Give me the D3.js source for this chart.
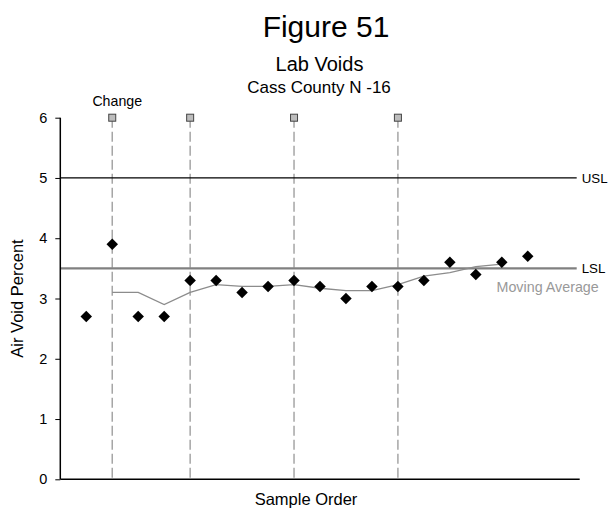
<!DOCTYPE html>
<html>
<head>
<meta charset="utf-8">
<script src="https://cdn.jsdelivr.net/npm/d3@7"></script>
<style>
  html, body { margin: 0; padding: 0; background: #fff; }
  svg { display: block; font-family: "Liberation Sans", Arial, sans-serif; }
</style>
</head>
<body>
<svg id="chart" width="608" height="510"></svg>
<script>
// Lab air voids by sample order
const sampleOrder = [1, 2, 3, 4, 5, 6, 7, 8, 9, 10, 11, 12, 13, 14, 15, 16, 17, 18];
const airVoids = [2.7, 3.9, 2.7, 2.7, 3.3, 3.3, 3.1, 3.2, 3.3, 3.2, 3.0, 3.2, 3.2, 3.3, 3.6, 3.4, 3.6, 3.7];

// Moving average (defined from sample 2 to 17)
const movingAvgOrder = [2, 3, 4, 5, 6, 7, 8, 9, 10, 11, 12, 13, 14, 15, 16, 17];
const movingAvg = [3.1, 3.1, 2.9, 3.1, 3.23, 3.2, 3.2, 3.23, 3.17, 3.13, 3.13, 3.23, 3.37, 3.43, 3.53, 3.57];

// Process change markers
const changePoints = [2, 5, 9, 13];
const changeLevel = 6;

// Specification limits
const specLimits = [
  { name: "USL", value: 5.0 },
  { name: "LSL", value: 3.5 }
];

const yTicks = [0, 1, 2, 3, 4, 5, 6];

const svg = d3.select("#chart");

const x = d3.scaleLinear().domain([0, 20]).range([60.3, 579.7]);
const y = d3.scaleLinear().domain([0, 6]).range([479.3, 117.7]);

// Titles
svg.append("text").attr("x", 326).attr("y", 37).attr("text-anchor", "middle")
  .attr("font-size", 30).attr("fill", "#000").text("Figure 51");
svg.append("text").attr("x", 319.5).attr("y", 71).attr("text-anchor", "middle")
  .attr("font-size", 20).attr("fill", "#000").text("Lab Voids");
svg.append("text").attr("x", 319).attr("y", 92.5).attr("text-anchor", "middle")
  .attr("font-size", 17).attr("fill", "#000").text("Cass County N -16");

// Change lines
svg.append("g").selectAll("line").data(changePoints).join("line")
  .attr("x1", d => x(d)).attr("x2", d => x(d))
  .attr("y1", y(changeLevel)).attr("y2", y(0))
  .attr("stroke", "#a6a6a6").attr("stroke-width", 1.5)
  .attr("stroke-dasharray", "10,4");

// Specification limit lines
const xEnd = x.range()[1] - 3;
svg.append("g").selectAll("line").data(specLimits).join("line")
  .attr("x1", x(0)).attr("x2", xEnd)
  .attr("y1", d => y(d.value)).attr("y2", d => y(d.value))
  .attr("stroke", d => d.name === "USL" ? "#000" : "#808080")
  .attr("stroke-width", d => d.name === "USL" ? 1.3 : 2.2);
svg.append("g").selectAll("text").data(specLimits).join("text")
  .attr("x", xEnd + 5).attr("y", d => y(d.value) + 5)
  .attr("font-size", 13.3).attr("fill", "#000").text(d => d.name);

// Moving average line
const maLine = d3.line().x((d, i) => x(movingAvgOrder[i])).y(d => y(d));
svg.append("path").datum(movingAvg)
  .attr("d", maLine).attr("fill", "none")
  .attr("stroke", "#8c8c8c").attr("stroke-width", 1.3);
svg.append("text").attr("x", 496.5).attr("y", 291.5)
  .attr("font-size", 14.3).attr("fill", "#999").text("Moving Average");

// Change markers
svg.append("g").selectAll("rect").data(changePoints).join("rect")
  .attr("x", d => x(d) - 3.5).attr("y", y(changeLevel) - 3.5)
  .attr("width", 7).attr("height", 7)
  .attr("fill", "#bdbdbd").attr("stroke", "#444").attr("stroke-width", 1);
svg.append("text").attr("x", x(changePoints[0]) + 5).attr("y", 105.5)
  .attr("text-anchor", "middle").attr("font-size", 14.2).attr("fill", "#000").text("Change");

// Data points
const diamond = d3.symbol().type(d3.symbolSquare).size(66);
svg.append("g").selectAll("path").data(airVoids).join("path")
  .attr("d", diamond)
  .attr("transform", (d, i) => `translate(${x(sampleOrder[i])},${y(d)}) rotate(45)`)
  .attr("fill", "#000");

// Y axis
const yAxis = d3.axisLeft(y).tickValues(yTicks).tickSize(5).tickPadding(8).tickFormat(d3.format("d"));
const gy = svg.append("g").attr("transform", `translate(${x(0)},0)`).call(yAxis);
gy.select(".domain").attr("d", `M0,${y(6)}V${y(0)}`).attr("stroke", "#000").attr("stroke-width", 1.5);
gy.selectAll(".tick line").attr("stroke", "#000").attr("stroke-width", 1);
gy.selectAll(".tick text").attr("font-size", 14.5).attr("fill", "#000")
  .attr("font-family", "Liberation Sans, Arial, sans-serif");

// X axis (line only)
svg.append("line").attr("x1", x(0)).attr("x2", x(20))
  .attr("y1", y(0)).attr("y2", y(0))
  .attr("stroke", "#000").attr("stroke-width", 1.5);

// Axis titles
svg.append("text").attr("transform", `translate(23,${(y(0) + y(6)) / 2}) rotate(-90)`)
  .attr("text-anchor", "middle").attr("font-size", 16.5).attr("fill", "#000").text("Air Void Percent");
svg.append("text").attr("x", 306).attr("y", 505).attr("text-anchor", "middle")
  .attr("font-size", 16.5).attr("fill", "#000").text("Sample Order");
</script>
</body>
</html>
